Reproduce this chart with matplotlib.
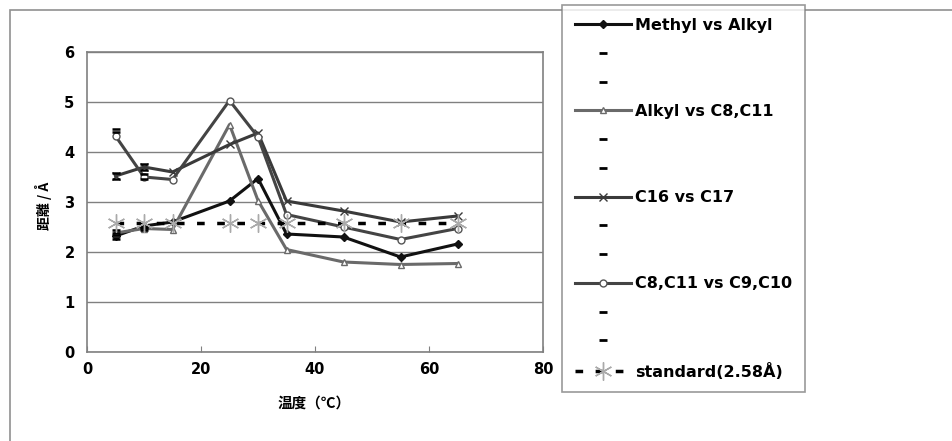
import numpy as np
import matplotlib
matplotlib.use('Agg')
from matplotlib import pyplot as plt
from matplotlib.lines import Line2D
from matplotlib.patches import Rectangle

plt.rcParams['font.family'] = ['DejaVu Sans', 'Noto Sans CJK JP']

temp = [5, 10, 15, 25, 30, 35, 45, 55, 65]

methyl = [2.32, 2.52, 2.6, 3.02, 3.47, 2.36, 2.3, 1.9, 2.16]
alkyl = [2.38, 2.47, 2.45, 4.55, 3.03, 2.05, 1.8, 1.75, 1.77]
c16 = [3.52, 3.7, 3.6, 4.15, 4.38, 3.02, 2.82, 2.6, 2.72]
c8 = [4.32, 3.5, 3.45, 5.03, 4.3, 2.75, 2.5, 2.25, 2.47]
standard = [2.58] * 9

nan = np.nan
# high / low marks (only visible at the first points)
methyl_hi = [2.38, 2.55, nan, nan, nan, nan, nan, nan, nan]
methyl_lo = [2.26, 2.48, nan, nan, nan, nan, nan, nan, nan]
alkyl_hi = [2.44, 2.51, nan, nan, nan, nan, nan, nan, nan]
alkyl_lo = [2.34, 2.44, nan, nan, nan, nan, nan, nan, nan]
c16_hi = [3.58, 3.76, nan, nan, nan, nan, nan, nan, nan]
c16_lo = [3.46, 3.64, nan, nan, nan, nan, nan, nan, nan]
c8_hi = [4.46, 3.56, nan, nan, nan, nan, nan, nan, nan]
c8_lo = [4.40, 3.47, nan, nan, nan, nan, nan, nan, nan]

labels = ['Methyl vs Alkyl', 'Alkyl vs C8,C11', 'C16 vs C17', 'C8,C11 vs C9,C10']

W, H = 952, 441
fig = plt.figure(figsize=(W / 100, H / 100), dpi=100)
ax = fig.add_axes([87 / W, 1 - 352 / H, (543 - 87) / W, 300 / H])

l1, = ax.plot(temp, methyl, color='#111111', lw=2.2, marker='D', ms=4, mfc='#111111', mec='#111111')
l2, = ax.plot(temp, alkyl, color='#6a6a6a', lw=2.2, marker='^', ms=5, mfc='white', mec='#6a6a6a')
l3, = ax.plot(temp, c16, color='#3a3a3a', lw=2.2, marker='x', ms=6, mec='#3a3a3a')
l4, = ax.plot(temp, c8, color='#444444', lw=2.2, marker='o', ms=5, mfc='white', mec='#555555')

for hi, lo in [(methyl_hi, methyl_lo), (alkyl_hi, alkyl_lo), (c16_hi, c16_lo), (c8_hi, c8_lo)]:
    ax.plot(temp, hi, ls='none', marker='_', ms=6, mew=1.8, color='black')
    ax.plot(temp, lo, ls='none', marker='_', ms=6, mew=1.8, color='black')

l5, = ax.plot(temp, standard, color='black', lw=2.5, ls=(0, (2.2, 3.6)),
              marker=(6, 2, 0), ms=13, mew=1, mec='#aaaaaa')

ax.set_xlim(0, 80)
ax.set_ylim(0, 6)
ax.set_xticks([0, 20, 40, 60, 80])
ax.set_yticks(range(7))
ax.grid(axis='y', color='#808080', lw=1)
ax.set_axisbelow(True)
for s in ax.spines.values():
    s.set_color('#808080')
    s.set_linewidth(1.2)
ax.tick_params(axis='x', direction='in', length=4, color='#808080', pad=7)
ax.tick_params(axis='y', length=0, pad=9)
for t in ax.get_xticklabels() + ax.get_yticklabels():
    t.set_fontweight('bold')
    t.set_fontsize(10.5)

ax.set_xlabel('温度（℃）', family=['Noto Sans CJK JP', 'DejaVu Sans'], fontsize=10.5,
              fontweight='bold', style='italic', va='center')
ax.xaxis.set_label_coords(0.498, (352 - 403) / 300)
ax.set_ylabel('距離 / Å', family=['Noto Sans CJK JP', 'DejaVu Sans'], fontsize=10,
              fontweight='bold', va='center')
ax.yaxis.set_label_coords((43 - 87) / 456, (352 - 206) / 300)

blank = Line2D([], [], ls='none', marker='_', ms=6, mew=2, color='black')
handles = [l1, blank, blank, l2, blank, blank, l3, blank, blank, l4, blank, blank, l5]
leg_labels = [labels[0], ' ', ' ', labels[1], ' ', ' ', labels[2], ' ', ' ',
              labels[3], ' ', ' ', 'standard(2.58Å)']
leg = fig.legend(handles, leg_labels, loc='upper left', bbox_to_anchor=(562 / W, 1 - 5 / H),
                 borderaxespad=0, frameon=True, fancybox=False, edgecolor='#808080',
                 handlelength=3.5, handletextpad=0.3, labelspacing=0.86,
                 prop={'weight': 'bold', 'size': 11.5}, borderpad=0.8)
leg.get_frame().set_linewidth(1.2)

fig.add_artist(Rectangle((10 / W, -0.1), 2, 1 - 10 / H + 0.1, transform=fig.transFigure,
                         fill=False, edgecolor='#909090', lw=1.2))

fig.savefig('out.png', dpi=100)
